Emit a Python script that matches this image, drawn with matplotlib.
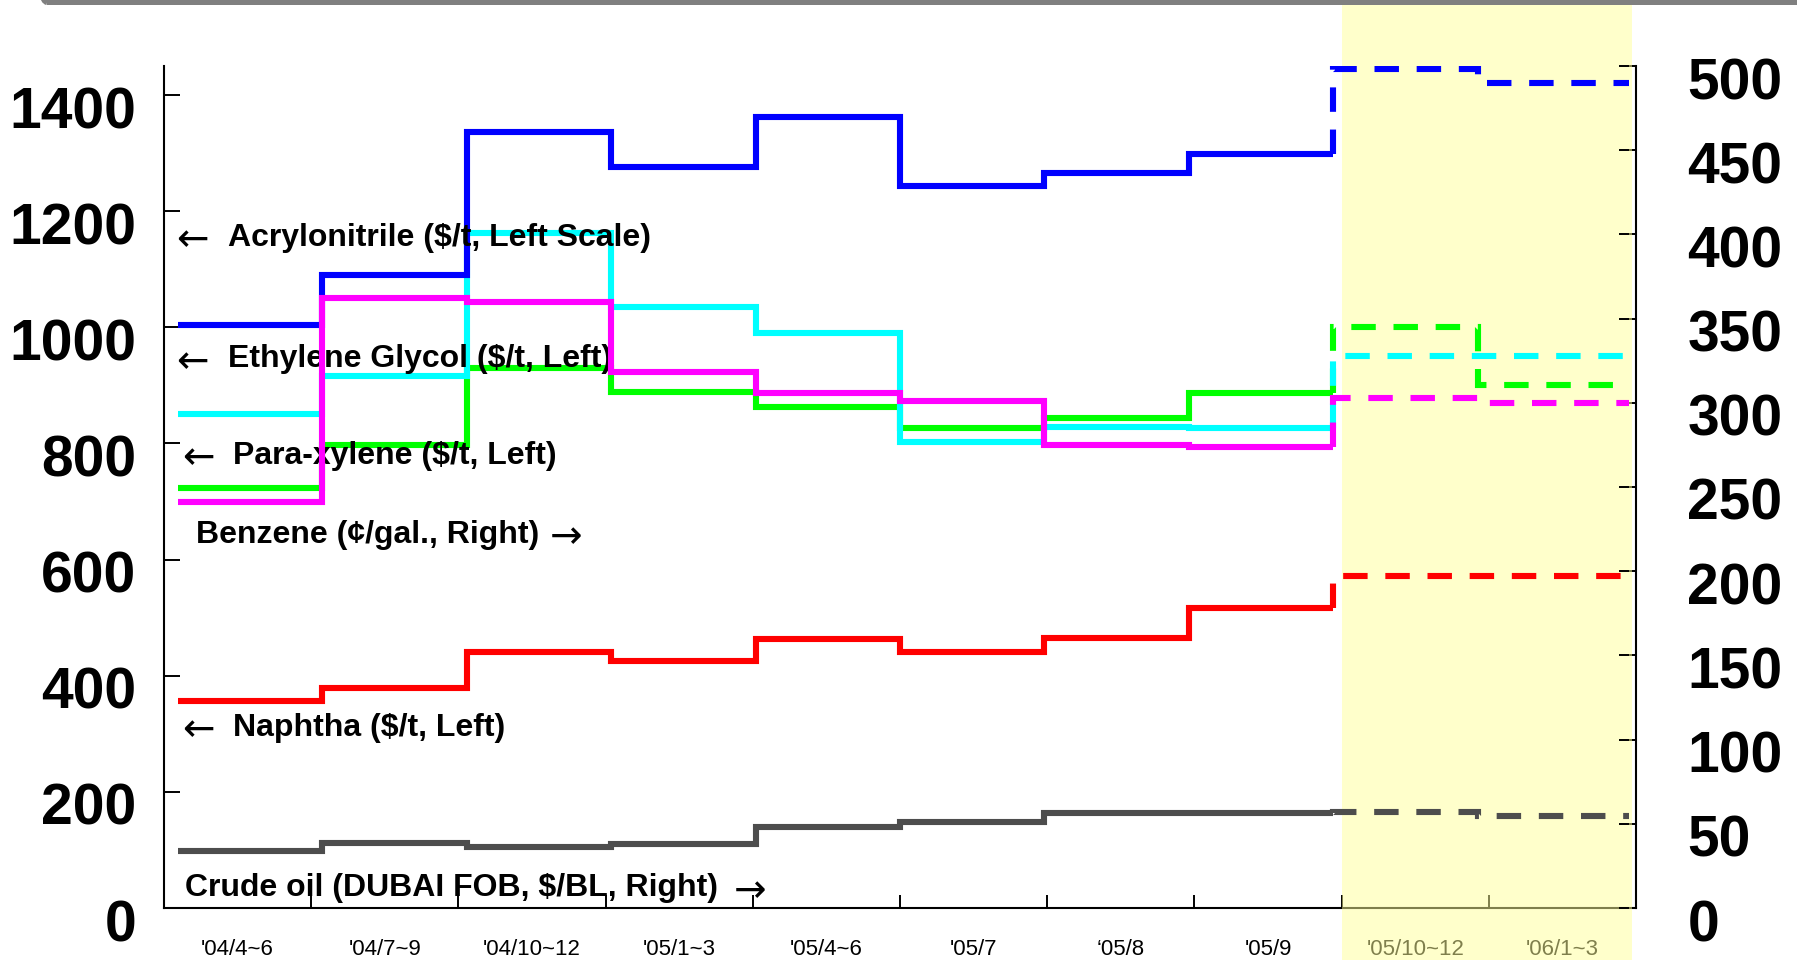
import numpy as np
import matplotlib
matplotlib.use("Agg")
import matplotlib.pyplot as plt
from matplotlib.patches import Rectangle, FancyBboxPatch
from matplotlib.transforms import ScaledTranslation, blended_transform_factory

# ---- data -------------------------------------------------------------
periods = ["'04/4~6", "'04/7~9", "'04/10~12", "'05/1~3", "'05/4~6",
           "'05/7", "\u201805/8", "'05/9", "'05/10~12", "'06/1~3"]
n_actual = 8  # the last two periods are forecasts (dashed, shaded)

# left scale ($/t)
acrylonitrile = [1004, 1090, 1336, 1276, 1362, 1244, 1266, 1298, 1445, 1421]
ethylene_glycol = [851, 917, 1163, 1035, 991, 802, 829, 827, 951, 951]
para_xylene = [723, 797, 930, 889, 863, 827, 843, 887, 1001, 901]
naphtha = [356, 379, 441, 425, 464, 441, 465, 517, 572, 572]
# right scale
benzene = [241, 362, 360, 318, 306, 301, 275, 274, 303, 300]          # cents/gal
crude_oil = [34, 38.4, 36.4, 38.3, 47.9, 51.3, 56.3, 56.7, 56.9, 54.7]  # $/BL

left_ticks = list(range(0, 1401, 200))
right_ticks = list(range(0, 501, 50))

# ---- layout -------------------------------------------------------------
W, H, DPI = 1797, 960, 100
fig = plt.figure(figsize=(W / DPI, H / DPI), dpi=DPI)
fig.patch.set_facecolor("white")

ax_l, ax_r, ax_b, ax_t = 164, 1636, 908, 66
ax = fig.add_axes([ax_l / W, (H - ax_b) / H, (ax_r - ax_l) / W, (ax_b - ax_t) / H])
ax2 = ax.twinx()

ax.set_xlim(0, 10)
ax.set_ylim(0, 1450)
ax2.set_ylim(0, 500)

# step boundaries of each period along the x axis
STEP_X0, STEP_W, STEP_END = 0.095, 0.981, 9.95
edges = np.append(STEP_X0 + STEP_W * np.arange(len(periods)), STEP_END)

LW = 4.4
DASH = (0, (4.0, 2.9))


def draw_steps(axis, values, color):
    v = np.asarray(values, dtype=float)
    xs = np.repeat(edges[:n_actual + 1], 2)[1:-1]
    ys = np.repeat(v[:n_actual], 2)
    axis.plot(xs, ys, color=color, lw=LW, solid_joinstyle="miter",
              solid_capstyle="butt", zorder=3)
    xd = np.concatenate([[edges[n_actual]],
                         np.repeat(edges[n_actual:], 2)[1:-1]])
    yd = np.concatenate([[v[n_actual - 1]], np.repeat(v[n_actual:], 2)])
    axis.plot(xd, yd, color=color, lw=LW, linestyle=DASH,
              dash_capstyle="butt", dash_joinstyle="miter", zorder=3)


draw_steps(ax, naphtha, "#FF0000")
draw_steps(ax, para_xylene, "#00FF00")
draw_steps(ax, ethylene_glycol, "#00FFFF")
draw_steps(ax, acrylonitrile, "#0000FF")
draw_steps(ax2, crude_oil, "#4D4D4D")
draw_steps(ax2, benzene, "#FF00FF")

# ---- axes styling -----------------------------------------------------
tick_font = dict(family="Liberation Sans", weight="bold", size=41)
for s in ("top", "right"):
    ax.spines[s].set_visible(False)
for s in ("top", "left", "bottom"):
    ax2.spines[s].set_visible(False)
for s in ("left", "bottom"):
    ax.spines[s].set_linewidth(1.5)
ax2.spines["right"].set_linewidth(1.5)

ax.set_yticks(left_ticks)
ax.set_yticklabels([str(t) for t in left_ticks], **tick_font)
ax.tick_params(axis="y", direction="in", length=11.5, width=1.4, pad=20)

ax2.set_yticks(right_ticks)
ax2.set_yticklabels([str(t) for t in right_ticks], **tick_font)
ax2.tick_params(axis="y", direction="in", length=12, width=1.4, pad=37)

ax.set_xticks(np.arange(len(periods) + 1))
ax.set_xticklabels([])
ax.set_xticks(np.arange(len(periods)) + 0.5, minor=True)
ax.set_xticklabels(periods, minor=True, family="Liberation Sans", size=16)
ax.tick_params(axis="x", which="major", direction="in", length=9.5, width=1.4)
ax.tick_params(axis="x", which="minor", length=0, pad=22)

# y tick labels sit a little below their tick marks
shift = ScaledTranslation(0, -12 / DPI, fig.dpi_scale_trans)
for lbl in ax.get_yticklabels() + ax2.get_yticklabels():
    lbl.set_transform(lbl.get_transform() + shift)

# ---- forecast shading ----------------------------------------------------
top_frac = (H - 5) / H
shade_end = 9.975
blend = blended_transform_factory(ax.transData, fig.transFigure)
ax.add_patch(Rectangle((n_actual, 0), edges[-1] - n_actual, top_frac,
                       transform=blend, facecolor="#FFFF99", alpha=0.5,
                       edgecolor="none", zorder=2.6, clip_on=False))
blend2 = blended_transform_factory(ax2.transData, fig.transFigure)
ax2.add_patch(Rectangle((edges[-1], 0), shade_end - edges[-1], top_frac,
                        transform=blend2, facecolor="#FFFF99", alpha=0.5,
                        edgecolor="none", zorder=2.6, clip_on=False))

# ---- series labels -------------------------------------------------------
label_font = dict(family="Liberation Sans", weight="bold", size=23,
                  va="center", ha="left", zorder=4)
arrow_font = dict(family="DejaVu Sans", size=28, va="center", ha="left",
                  zorder=4)

ax.text(0.085, 1150, "\u2190", **arrow_font)
ax.text(0.435, 1154, "Acrylonitrile ($/t, Left Scale)", **label_font)
ax.text(0.085, 941, "\u2190", **arrow_font)
ax.text(0.435, 945, "Ethylene Glycol ($/t, Left)", **label_font)
ax.text(0.12, 774, "\u2190", **arrow_font)
ax.text(0.469, 778, "Para-xylene ($/t, Left)", **label_font)
ax.text(0.217, 642, "Benzene (\u00a2/gal., Right)", **label_font)
ax.text(2.62, 638, "\u2192", **arrow_font)
ax.text(0.12, 306, "\u2190", **arrow_font)
ax.text(0.469, 310, "Naphtha ($/t, Left)", **label_font)
ax.text(0.143, 34, "Crude oil (DUBAI FOB, $/BL, Right)", **label_font)
ax.text(3.87, 30, "\u2192", **arrow_font)

# ---- slide frame edge along the top ----------------------------------------
frame = FancyBboxPatch((0.32, 9.575), 18.0, 2.0,
                       boxstyle="round,pad=0,rounding_size=0.15",
                       transform=fig.dpi_scale_trans, facecolor="none",
                       edgecolor="#808080", lw=3.6, clip_on=False)
fig.add_artist(frame)

fig.savefig("out.png", dpi=DPI)
